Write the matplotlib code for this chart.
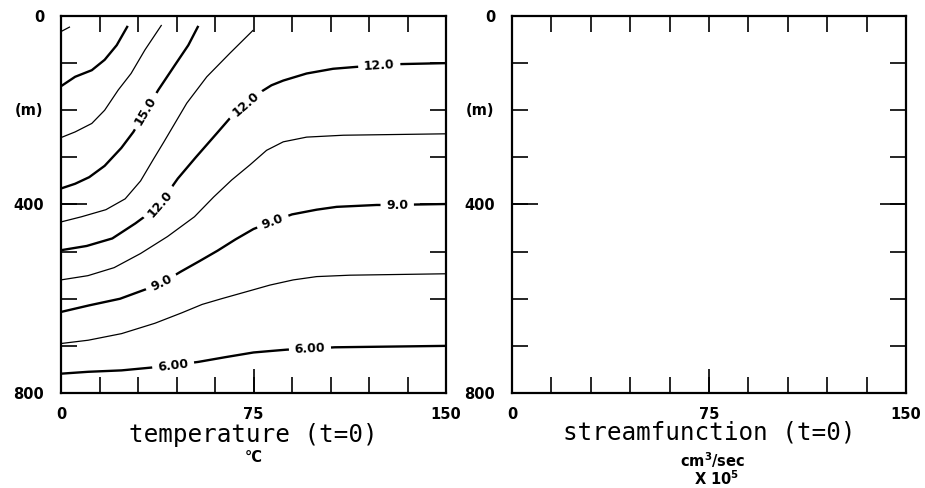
import numpy as np
import matplotlib
matplotlib.use('Agg')
import matplotlib.pyplot as plt

# isotherms of the t=0 temperature section
# x = distance (0..150), z = depth in m (0 at top)
iso_195_x = [0, 3.5]
iso_195_z = [33, 23]
iso_180_x = [0, 5.5, 12, 17, 21.7, 26]
iso_180_z = [149, 129, 115, 93, 62, 21]
iso_165_x = [0, 5.5, 12, 17, 22.3, 27.3, 32.7, 39.2]
iso_165_z = [258, 246, 228, 200, 157, 122, 72, 19]
iso_150_x = [0, 5.5, 11, 17, 23.5, 28.2, 37.9, 44.4, 49.6, 53.5]
iso_150_z = [366, 356, 342, 318, 280, 246, 157, 104, 62, 21]
iso_135_x = [0, 8, 17.5, 25, 31, 36, 40, 49, 56.8, 65.8, 74.9]
iso_135_z = [437, 426, 411, 388, 350, 304, 268, 185, 129, 79, 30]
iso_120_x = [0, 10, 20, 29, 34, 38.6, 45.5, 52.5, 60.7, 65.8, 72, 77, 82, 86.6, 95.7, 106, 115, 124, 132.7, 150]
iso_120_z = [497, 488, 472, 440, 420, 398, 345, 300, 249, 217, 188, 164, 147, 137, 122, 112, 108, 105, 102, 100]
iso_105_x = [0, 10.5, 20.7, 31, 41.5, 52, 59.5, 66.5, 73.6, 80.1, 86.6, 95.7, 110, 150]
iso_105_z = [560, 551, 534, 504, 468, 426, 384, 348, 316, 285, 267, 257, 253, 250]
iso_90_x = [0, 11, 23, 33, 39.2, 46.5, 54, 61, 68, 75, 82.5, 90, 99.6, 107.4, 123, 131, 138.6, 150]
iso_90_z = [628, 614, 600, 580, 567, 543, 520, 498, 474, 452, 436, 421, 411, 405, 401, 401, 400, 399]
iso_75_x = [0, 10.6, 23.6, 36.6, 47, 55, 62.5, 73.6, 81.4, 90.5, 99.6, 112.6, 150]
iso_75_z = [695, 688, 674, 652, 630, 612, 600, 583, 571, 560, 553, 550, 547]
iso_60_x = [0, 10.6, 23.6, 35.3, 43.7, 53.5, 64, 75, 81.4, 88, 97, 106.7, 150]
iso_60_z = [759, 755, 752, 746, 741, 734, 724, 714, 711, 708, 706, 703, 700]

levels = [19.5, 18.0, 16.5, 15.0, 13.5, 12.0, 10.5, 9.0, 7.5, 6.0]
iso_x = [iso_195_x, iso_180_x, iso_165_x, iso_150_x, iso_135_x,
         iso_120_x, iso_105_x, iso_90_x, iso_75_x, iso_60_x]
iso_z = [iso_195_z, iso_180_z, iso_165_z, iso_150_z, iso_135_z,
         iso_120_z, iso_105_z, iso_90_z, iso_75_z, iso_60_z]

# contour labels: which level, where along x, text
label_level = [15.0, 12.0, 12.0, 12.0, 9.0, 9.0, 9.0, 6.0, 6.0]
label_at_x = [33, 38.6, 72, 124, 39.2, 82.5, 131, 43.7, 97]
label_text = ['15.0', '12.0', '12.0', '12.0', '9.0', '9.0', '9.0', '6.00', '6.00']

x_major = [0, 75, 150]
x_minor = np.arange(0, 151, 15)
y_major = [0, 400, 800]
y_minor = np.arange(0, 801, 100)

fig = plt.figure(figsize=(9.25, 4.88), dpi=100)
ax1 = fig.add_axes([61/925, 1-393/488, 385/925, 377/488])
ax2 = fig.add_axes([512/925, 1-393/488, 394/925, 377/488])

def style(ax):
    ax.set_xlim(0, 150)
    ax.set_ylim(800, 0)
    ax.set_xticks(x_major)
    ax.set_xticks(x_minor, minor=True)
    ax.set_yticks(y_major)
    ax.set_yticks(y_minor, minor=True)
    ax.xaxis.remove_overlapping_locs = False
    ax.yaxis.remove_overlapping_locs = False
    ax.set_xticklabels(['0', '75', '150'], fontsize=10.5, fontweight='bold')
    ax.set_yticklabels(['0', '400', '800'], fontsize=10.5, fontweight='bold')
    ax.tick_params(axis='x', which='major', direction='in', bottom=True, top=False,
                   length=17, width=1.2, pad=10)
    ax.tick_params(axis='x', which='minor', direction='in', bottom=True, top=True,
                   length=11.5, width=1.2)
    ax.tick_params(axis='y', which='major', direction='in', left=True, right=True,
                   length=19, width=1.2, pad=12)
    ax.tick_params(axis='y', which='minor', direction='in', left=True, right=True,
                   length=11.5, width=1.2)
    for s in ax.spines.values():
        s.set_linewidth(1.6)
    ax.set_ylabel('(m)', rotation=0, fontsize=10.5, fontweight='bold',
                  ha='right', va='center')
    ax.yaxis.set_label_coords(-0.045, 0.75)

style(ax1)
style(ax2)

# isotherms, every second one (multiples of 3) drawn heavier
for lev, xs, zs in zip(levels, iso_x, iso_z):
    lw = 1.7 if lev % 3 == 0 else 0.9
    ax1.plot(xs, zs, color='black', linewidth=lw, solid_capstyle='butt',
             solid_joinstyle='round')

for lev, x0, txt in zip(label_level, label_at_x, label_text):
    k = levels.index(lev)
    xs, zs = iso_x[k], iso_z[k]
    z0 = np.interp(x0, xs, zs)
    p1 = ax1.transData.transform((x0 - 3, np.interp(x0 - 3, xs, zs)))
    p2 = ax1.transData.transform((x0 + 3, np.interp(x0 + 3, xs, zs)))
    ang = np.degrees(np.arctan2(p2[1] - p1[1], p2[0] - p1[0]))
    ax1.text(x0, z0, txt, rotation=ang, rotation_mode='anchor', ha='center', va='center',
             fontsize=9, fontweight='bold', zorder=5,
             bbox=dict(boxstyle='square,pad=0.45', facecolor='white', edgecolor='none'))

mono = 'DejaVu Sans Mono'
ax1.text(0.5, -0.111, 'temperature (t=0)', transform=ax1.transAxes, ha='center',
         va='center', fontsize=17.5, family=mono)
ax1.text(0.5, -0.172, '°C', transform=ax1.transAxes, ha='center', va='center',
         fontsize=10.5, fontweight='bold')
ax2.text(0.5, -0.106, 'streamfunction (t=0)', transform=ax2.transAxes, ha='center',
         va='center', fontsize=17.5, family=mono)
ax2.text(0.51, -0.178, r'cm$^{\mathbf{3}}$/sec', transform=ax2.transAxes, ha='center',
         va='center', fontsize=10.5, fontweight='bold')
ax2.text(0.52, -0.228, r'X 10$^{\mathbf{5}}$', transform=ax2.transAxes, ha='center',
         va='center', fontsize=10.5, fontweight='bold')

fig.savefig('out.png', dpi=100)
